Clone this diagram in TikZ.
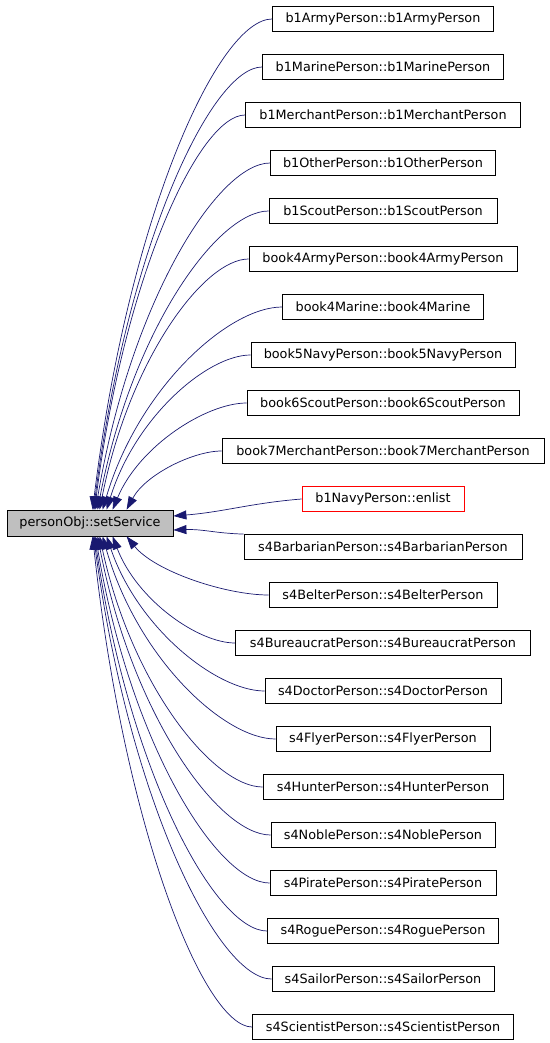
\documentclass[tikz,border=0pt]{standalone}
\usepackage{fontspec}
\setmainfont{DejaVu Sans}
\usetikzlibrary{arrows.meta,calc}
\definecolor{edgeblue}{HTML}{191970}
\definecolor{fngray}{HTML}{BFBFBF}

\begin{document}
\begin{tikzpicture}[
    x=1pt, y=1pt,
    fn/.style={rectangle, draw, line width=0.8pt, minimum height=25pt, inner sep=0pt,
               font=\fontsize{12.8}{15}\selectfont},
    edge/.style={draw=edgeblue, line width=0.7pt, -{Triangle[length=13pt,width=9pt]}},
]
\useasboundingbox (0,0) rectangle (549,-1043);

% the function itself
\node[fn, fill=fngray, minimum width=166pt, minimum height=26pt] (set) at (90,-523) {personObj::setService};

% its callers
\foreach \name/\w/\col [count=\i from 0] in {
    b1ArmyPerson::b1ArmyPerson/221/black,
    b1MarinePerson::b1MarinePerson/241/black,
    b1MerchantPerson::b1MerchantPerson/275/black,
    b1OtherPerson::b1OtherPerson/225/black,
    b1ScoutPerson::b1ScoutPerson/228/black,
    book4ArmyPerson::book4ArmyPerson/268/black,
    book4Marine::book4Marine/201/black,
    book5NavyPerson::book5NavyPerson/264/black,
    book6ScoutPerson::book6ScoutPerson/272/black,
    book7MerchantPerson::book7MerchantPerson/322/black,
    b1NavyPerson::enlist/162/red,
    s4BarbarianPerson::s4BarbarianPerson/278/black,
    s4BelterPerson::s4BelterPerson/228/black,
    s4BureaucratPerson::s4BureaucratPerson/295/black,
    s4DoctorPerson::s4DoctorPerson/236/black,
    s4FlyerPerson::s4FlyerPerson/214/black,
    s4HunterPerson::s4HunterPerson/240/black,
    s4NoblePerson::s4NoblePerson/224/black,
    s4PiratePerson::s4PiratePerson/226/black,
    s4RoguePerson::s4RoguePerson/231/black,
    s4SailorPerson::s4SailorPerson/222/black,
    s4ScientistPerson::s4ScientistPerson/261/black}
  \node[fn, draw=\col, minimum width=\w pt] (r\i) at (383,{-19-48*\i}) {\name};

% calls from above
\foreach \i/\dx in {0/86,1/87,2/88,3/89,4/91,5/93,6/96,7/100,8/106,9/120}
  \draw[edge] let \p1=(r\i.west), \p2=($(set.north west)+(\dx,0)$) in
    (\p1) .. controls ($(\p1)+({-0.3*(\x1-\x2)},0)$) and ($(\p2)+({0.2*(\x1-\x2)},{0.6*(\y1-\y2)})$) .. (\p2);

% calls from the side
\draw[edge] (r10.west) .. controls ($(r10.west)+(-50,-4)$) and ($(set.east)+(50,11)$) .. ($(set.east)+(0,7)$);
\draw[edge] (r11.north west) .. controls ($(r11.north west)+(-30,1)$) and ($(set.east)+(30,-6)$) .. ($(set.east)+(0,-7)$);

% calls from below
\foreach \i/\dx in {12/120,13/106,14/100,15/96,16/93,17/91,18/89,19/88,20/87,21/86}
  \draw[edge] let \p1=(r\i.west), \p2=($(set.south west)+(\dx,0)$) in
    (\p1) .. controls ($(\p1)+({-0.3*(\x1-\x2)},0)$) and ($(\p2)+({0.2*(\x1-\x2)},{0.6*(\y1-\y2)})$) .. (\p2);

\end{tikzpicture}
\end{document}
